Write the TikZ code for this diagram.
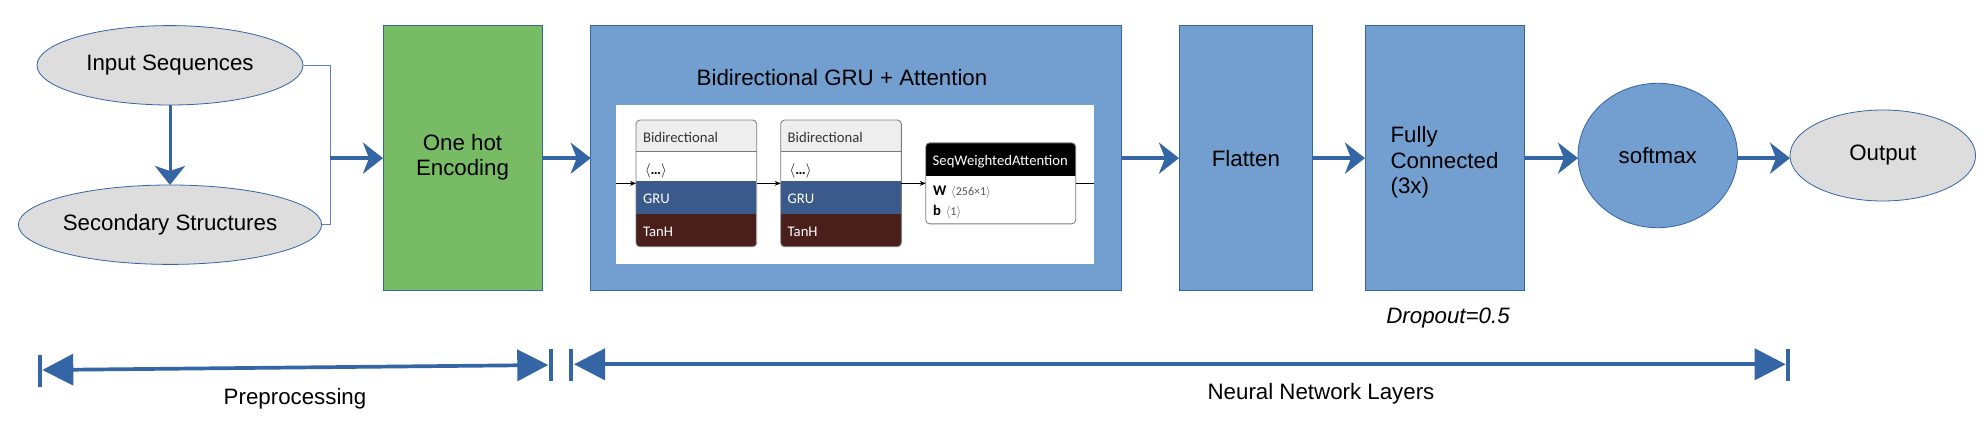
\documentclass[tikz,border=0pt]{standalone}
\usepackage{fontspec}
\setmainfont{Liberation Sans}
\newfontfamily\calfont{Carlito}
\usetikzlibrary{shapes.geometric,arrows.meta}
\definecolor{boxblue}{HTML}{729FCF}
\definecolor{edgeblue}{HTML}{3465A4}
\definecolor{arrowblue}{HTML}{3465A4}
\definecolor{linkblue}{HTML}{5A84C0}
\definecolor{boxgreen}{HTML}{77BC65}
\definecolor{ovalgray}{HTML}{DDDDDD}
\definecolor{grublue}{HTML}{3A5A8B}
\definecolor{tanbrown}{HTML}{4A1E1A}
\definecolor{headgray}{HTML}{EEEEEE}
\definecolor{blockedge}{HTML}{7A7A7A}
\definecolor{headtext}{HTML}{333333}
\definecolor{dimtext}{HTML}{555555}
\newcommand\grusectionfill[1]{%
  \begin{scope}
    \clip[rounded corners=4pt] (#1.north west) rectangle (#1.south east);
    \fill[headgray] (#1.north west) rectangle ([yshift=-31.7pt]#1.north east);
    \fill[grublue] ([yshift=-60.7pt]#1.north west) rectangle ([yshift=-94.3pt]#1.north east);
    \fill[tanbrown] ([yshift=-94.3pt]#1.north west) rectangle (#1.south east);
  \end{scope}
  \draw[blockedge, line width=0.6pt] ([yshift=-31.7pt]#1.north west) -- ([yshift=-31.7pt]#1.north east);
  \draw[blockedge, line width=0.8pt, rounded corners=4pt] (#1.north west) rectangle (#1.south east);}
\newcommand\attsectionfill[1]{%
  \begin{scope}
    \clip[rounded corners=4pt] (#1.north west) rectangle (#1.south east);
    \fill[black] (#1.north west) rectangle ([yshift=-32.7pt]#1.north east);
  \end{scope}
  \draw[blockedge, line width=0.8pt, rounded corners=4pt] (#1.north west) rectangle (#1.south east);}
\begin{document}
\begin{tikzpicture}[x=1pt,y=-1pt,
  every node/.style={inner sep=0pt, outer sep=0pt},
  bigfont/.style={font=\fontsize{22.3}{25.5}\selectfont},
  smallfont/.style={font=\calfont\fontsize{14.7}{16.5}\selectfont},
  oval/.style={ellipse, draw=edgeblue, line width=0.8pt, fill=ovalgray, bigfont},
  layerbox/.style={rectangle, draw=edgeblue, line width=0.8pt, fill=boxblue, bigfont, minimum height=265.3pt},
  flow/.style={draw=arrowblue, line width=3.4pt, -{Stealth[length=20pt, width=31pt, inset=6pt]}},
  downflow/.style={draw=arrowblue, line width=3pt, -{Stealth[length=19pt, width=30pt, inset=5pt]}},
  thinlink/.style={draw=linkblue, line width=1pt},
  spanbar/.style={draw=arrowblue, line width=3.7pt, {Triangle[length=31pt, width=31pt]}-{Triangle[length=31pt, width=31pt]}},
  spantick/.style={draw=arrowblue, line width=4pt},
  grublock/.style={rectangle, rounded corners=4pt, fill=white, minimum width=120.7pt, minimum height=126.7pt},
  attblock/.style={rectangle, rounded corners=4pt, fill=white, minimum width=150pt, minimum height=81pt},
  inlink/.style={draw=black, line width=0.8pt, -{Stealth[length=6pt, width=5pt]}},
]
\fill[white] (0,0) rectangle (1987,431);
\useasboundingbox (0,0) rectangle (1987,431);

% inputs
\node[oval, minimum width=266pt, minimum height=79.4pt] (inseq) at (170,65.3) {Input Sequences};
\node[oval, minimum width=266pt, minimum height=79.4pt] (secstr) at (170,224.7) {Secondary Structures};
\draw[downflow] (inseq.south) -- (secstr.north);
\coordinate (join) at (330,158.15);
\draw[thinlink] (inseq.east) -| (join);
\draw[thinlink] (secstr.east) -| (join);

% layers
\node[layerbox, fill=boxgreen, minimum width=159pt] (onehot) at (462.5,158.15)
  {\raisebox{-1.8pt}{\begin{tabular}{@{}c@{}}One hot\\[-0.3pt]Encoding\end{tabular}}};
\node[layerbox, minimum width=530.3pt] (bigru) at (855.85,158.15) {};
\node[bigfont, anchor=base] (bigrutitle) at (842,85) {Bidirectional GRU + Attention};
\node[rectangle, fill=white, minimum width=478pt, minimum height=159pt] (panel) at (855,184.5) {};
\node[layerbox, minimum width=133.7pt] (flatten) at (1245.85,158.15) {Flatten};
\node[layerbox, minimum width=159pt, label={[bigfont, align=left, yshift=-4.3pt]center:Fully\\Connected\\(3x)}] (fc) at (1444.5,158.15) {};
\node[ellipse, draw=edgeblue, line width=0.8pt, fill=boxblue, bigfont, minimum width=159.5pt, minimum height=144.4pt] (softmax) at (1657.75,155.5) {softmax};
\node[oval, minimum width=185.6pt, minimum height=91pt] (output) at (1882.8,155.5) {Output};
\node[font=\fontsize{22.3}{25.5}\selectfont\itshape, anchor=base] (dropout) at (1448,323.3) {Dropout=0.5};

\draw[flow] (join) -- (onehot.west);
\draw[flow] (onehot.east) -- (bigru.west);
\draw[flow] (bigru.east) -- (flatten.west);
\draw[flow] (flatten.east) -- (fc.west);
\draw[flow] (fc.east) -- (fc.east -| softmax.west);
\draw[flow] (softmax.east |- fc.east) -- (output.west |- fc.east);

% inner GRU blocks
\node[grublock] (b1) at (696.35,183.35) {};
\node[grublock] (b2) at (841,183.35) {};
\node[attblock] (att) at (1000.7,183.35) {};
\grusectionfill{b1}
\grusectionfill{b2}
\attsectionfill{att}
\coordinate (pin) at (616,183.35);
\coordinate (pout) at (1094,183.35);
\draw[inlink] (pin) -- (b1.west);
\draw[inlink] (b1.east) -- (b2.west);
\draw[inlink] (b2.east) -- (att.west);
\draw[black, line width=0.8pt] (att.east) -- (pout);

\node[smallfont, text=headtext, anchor=base west] (b1h) at (643,142.7) {Bidirectional};
\node[smallfont, anchor=base west] (b1d) at (645,174.3) {$\langle$\textbf{\ldots}$\rangle$};
\node[smallfont, text=white, anchor=base west] (b1g) at (643,203.3) {GRU};
\node[smallfont, text=white, anchor=base west] (b1t) at (643,236.7) {TanH};
\node[smallfont, text=headtext, anchor=base west] (b2h) at (787.7,142.7) {Bidirectional};
\node[smallfont, anchor=base west] (b2d) at (789.7,174.3) {$\langle$\textbf{\ldots}$\rangle$};
\node[smallfont, text=white, anchor=base west] (b2g) at (787.7,203.3) {GRU};
\node[smallfont, text=white, anchor=base west] (b2t) at (787.7,236.7) {TanH};
\node[smallfont, text=white, anchor=base west] (atth) at (932.7,165) {SeqWeightedAttention};
\node[smallfont, anchor=base west] (attw) at (933,195) {\textbf{W}\,\,{\color{dimtext}\fontsize{12}{14}\selectfont$\langle$256×1$\rangle$}};
\node[smallfont, anchor=base west] (attb) at (933,215) {\textbf{b}\,\,{\color{dimtext}\fontsize{12}{14}\selectfont$\langle$1$\rangle$}};

% spans
\coordinate (preL) at (42.3,370);
\coordinate (preR) at (548.3,365);
\coordinate (preLt) at (40,355);
\coordinate (preLb) at (40,386.7);
\coordinate (preRt) at (550.7,349);
\coordinate (preRb) at (550.7,381);
\draw[spanbar] (preL) -- (preR);
\draw[spantick] (preLt) -- (preLb);
\draw[spantick] (preRt) -- (preRb);
\coordinate (nnL) at (574,364.3);
\coordinate (nnR) at (1785.7,364.3);
\coordinate (nnLt) at (571,349);
\coordinate (nnLb) at (571,381);
\coordinate (nnRt) at (1788.3,349.3);
\coordinate (nnRb) at (1788.3,381);
\draw[spanbar] (nnL) -- (nnR);
\draw[spantick] (nnLt) -- (nnLb);
\draw[spantick] (nnRt) -- (nnRb);
\node[bigfont, anchor=base] (prelabel) at (295,404) {Preprocessing};
\node[bigfont, anchor=base] (nnlabel) at (1321,399.3) {Neural Network Layers};
\end{tikzpicture}
\end{document}
